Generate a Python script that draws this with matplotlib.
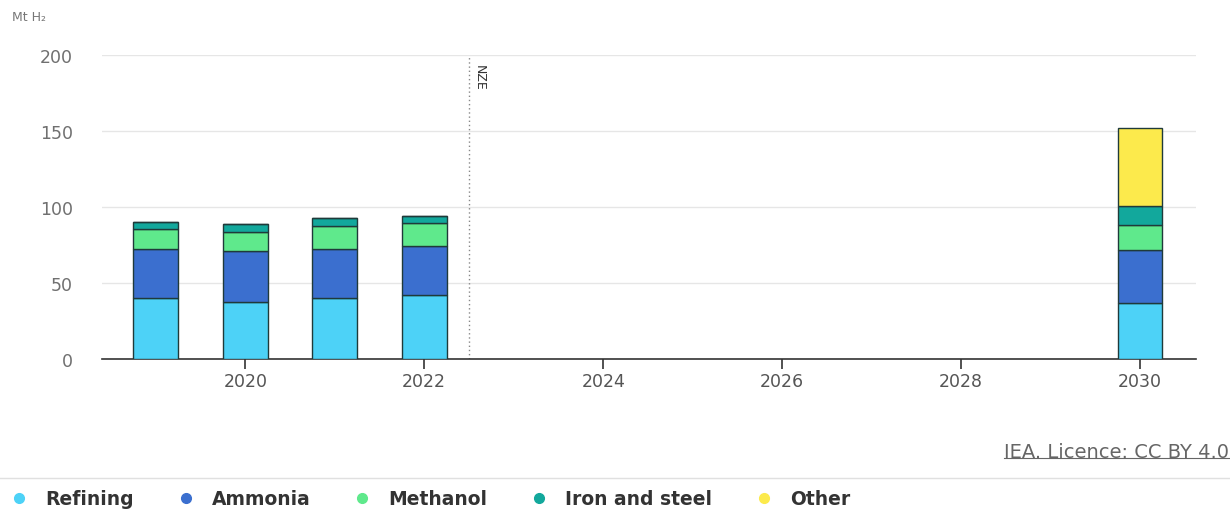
import matplotlib
matplotlib.use("Agg")
import matplotlib.pyplot as plt
from matplotlib.lines import Line2D

years = [2019, 2020, 2021, 2022, 2030]
refining = [39.9, 37.7, 39.9, 41.9, 37.2]
ammonia = [32.4, 33.1, 32.4, 32.4, 34.4]
methanol = [13.1, 13.1, 15.1, 15.3, 16.7]
iron_steel = [5.1, 5.0, 5.1, 4.8, 12.7]
other = [0.0, 0.0, 0.0, 0.0, 51.0]
series_names = ["Refining", "Ammonia", "Methanol", "Iron and steel", "Other"]
colors = ["#4dd2f7", "#3b6fcf", "#5fe98c", "#12a89c", "#fcea4c"]
xticks = [2020, 2022, 2024, 2026, 2028, 2030]
yticks = [0, 50, 100, 150, 200]

plt.rcParams['font.family'] = ['DejaVu Sans']

fig = plt.figure(figsize=(12.3, 5.1), dpi=100)
ax = fig.add_axes([0.083, 0.294, 0.889, 0.596])

series = [refining, ammonia, methanol, iron_steel, other]
bottom = [0.0] * len(years)
for vals, col in zip(series, colors):
    ax.bar(years, vals, width=0.5, bottom=bottom, color=col,
           edgecolor="#1f3a3a", linewidth=1.0, zorder=3)
    bottom = [b + v for b, v in zip(bottom, vals)]

ax.set_xlim(2018.4, 2030.62)
ax.set_ylim(0, 200)
ax.set_xticks(xticks)
ax.set_xticklabels([str(t) for t in xticks])
ax.set_yticks(yticks)
ax.set_yticklabels([str(t) for t in yticks])

ax.grid(axis='y', color="#e6e6e6", linewidth=1, zorder=0)
for s in ['top', 'right', 'left']:
    ax.spines[s].set_visible(False)
ax.spines['bottom'].set_color("#333333")
ax.spines['bottom'].set_linewidth(1.2)
ax.tick_params(axis='x', length=7, width=1.2, color="#333333",
               labelsize=12.5, labelcolor="#555555", pad=2)
ax.tick_params(axis='y', length=0, labelsize=12.5, labelcolor="#707070", pad=21)

# NZE marker line
ax.axvline(2022.5, color="#888888", linestyle=(0, (1, 2)), linewidth=1.0, zorder=2)
ax.text(2022.62, 194, "NZE", rotation=-90, fontsize=9, color="#333333",
        ha='center', va='top')

fig.text(0.01, 0.965, "Mt H\u2082", fontsize=9, color="#777777", ha='left', va='center')

src = fig.text(0.9995, 0.112, "IEA. Licence: CC BY 4.0", fontsize=14, color="#666666",
               ha='right', va='center')
fig.canvas.draw()
bb = src.get_window_extent().transformed(fig.transFigure.inverted())
fig.add_artist(Line2D([bb.x0, bb.x1], [bb.y0 + 0.006, bb.y0 + 0.006],
                      color="#666666", linewidth=0.8))
fig.add_artist(Line2D([0.0, 1.0], [0.061, 0.061], color="#e0e0e0", linewidth=1.0))

handles = [Line2D([], [], marker='o', linestyle='', markersize=7,
                  markerfacecolor=c, markeredgecolor=c) for c in colors]
leg = fig.legend(handles, series_names, loc='center left', bbox_to_anchor=(0.008, 0.02),
                 ncol=5, frameon=False, handletextpad=0.9, columnspacing=2.25,
                 prop={'size': 13.5, 'weight': 'bold'}, handlelength=1.0,
                 borderaxespad=0, borderpad=0)
for t in leg.get_texts():
    t.set_color("#333333")

fig.savefig("out.png", dpi=100, facecolor="white")
